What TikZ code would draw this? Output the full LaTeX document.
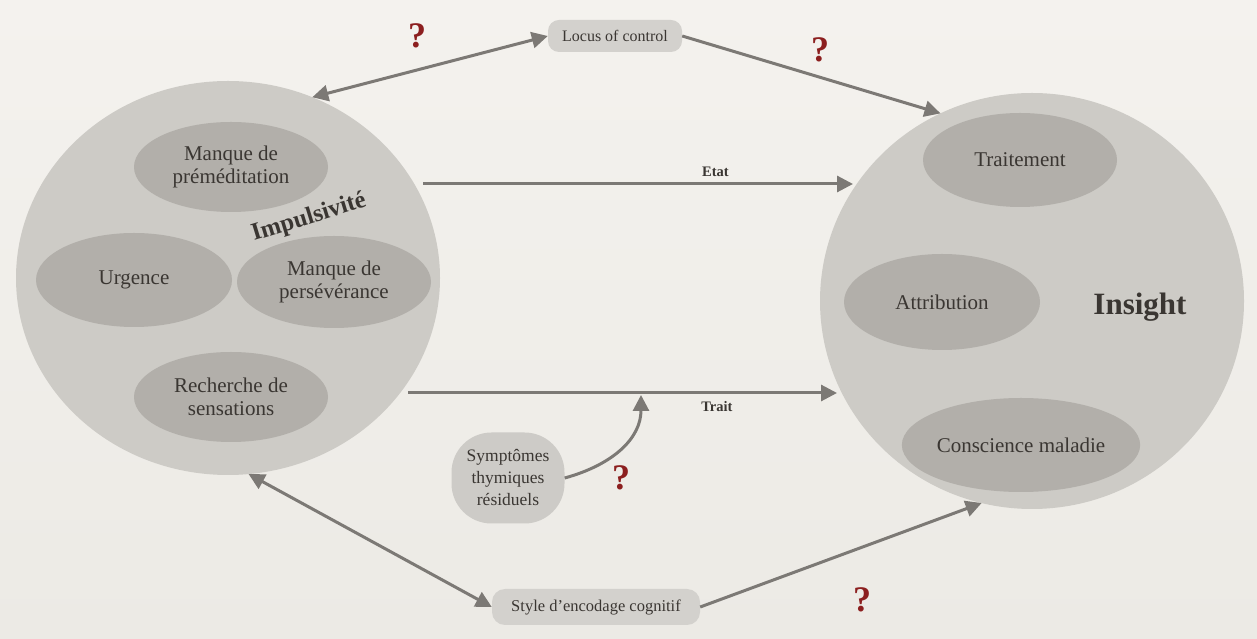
\documentclass[tikz,border=0pt]{standalone}
\usepackage{fontspec}
\setmainfont{Liberation Serif}
\usetikzlibrary{shapes.geometric,arrows.meta,calc}
\definecolor{bgtop}{HTML}{F4F2EE}
\definecolor{bgbot}{HTML}{ECEAE5}
\definecolor{bigfill}{HTML}{CDCBC6}
\definecolor{innerfill}{HTML}{B2AFAA}
\definecolor{boxfill}{HTML}{D3D1CD}
\definecolor{txt}{HTML}{3A3632}
\definecolor{arrgray}{HTML}{7C7975}
\definecolor{qred}{HTML}{8C1F1F}
\tikzset{
  bigcircle/.style={ellipse, fill=bigfill, draw=none, inner sep=0pt, outer sep=0pt},
  inner/.style={ellipse, fill=innerfill, draw=none, inner sep=0pt, outer sep=0pt,
    minimum width=194pt, minimum height=92pt, text=txt, align=center,
    font=\fontsize{21}{23}\selectfont},
  rbox/.style={rectangle, rounded corners=11pt, fill=boxfill, draw=none, text=txt,
    inner sep=0pt, align=center},
  arr/.style={draw=arrgray, line width=3pt, -{Triangle[length=16pt,width=16pt]}},
  darr/.style={draw=arrgray, line width=3pt, {Triangle[length=16pt,width=16pt]}-{Triangle[length=16pt,width=16pt]}},
  qmark/.style={text=qred, font=\fontsize{36}{36}\selectfont\bfseries, inner sep=0pt},
  lbl/.style={text=txt, font=\fontsize{14.5}{16}\selectfont\bfseries, inner sep=0pt},
}
\begin{document}
\begin{tikzpicture}[x=1pt,y=1pt]
\fill[top color=bgtop, bottom color=bgbot] (0,0) rectangle (1257,639);
\useasboundingbox (0,0) rectangle (1257,639);

% big circles
\node[bigcircle, minimum width=424pt, minimum height=394pt] (impuls) at (228,361) {};
\node[bigcircle, minimum width=424pt, minimum height=416pt] (insight) at (1032,338) {};

% inner ellipses left
\node[inner, minimum height=90pt] (prem) at (231,472) {Manque de\\préméditation};
\node[inner, minimum width=196pt, minimum height=94pt] (urg) at (134,359) {Urgence};
\node[inner] (pers) at (334,357) {Manque de\\persévérance};
\node[inner, minimum height=90pt] (rech) at (231,242) {Recherche de\\sensations};
\node[text=txt, font=\fontsize{24.5}{25}\selectfont\bfseries, rotate=17, inner sep=0pt] (impt) at (309,421) {Impulsivité};

% inner ellipses right
\node[inner, minimum height=94pt] (trt) at (1020,479) {Traitement};
\node[inner, minimum width=196pt, minimum height=96pt] (attr) at (942,337) {Attribution};
\node[inner, minimum width=196pt, minimum height=94pt] (consc) at (1021,194) {Conscience maladie};
\node[text=txt, font=\fontsize{31}{31}\selectfont\bfseries, inner sep=0pt] (inst) at (1140,332) {Insight};

% boxes
\node[rbox, minimum width=134pt, minimum height=32pt, font=\fontsize{16}{18}\selectfont] (locus) at (615,603) {Locus of control};
\node[rbox, minimum width=208pt, minimum height=36pt, rounded corners=13pt, font=\fontsize{16.5}{18}\selectfont] (style) at (596,32) {Style d’encodage cognitif};
\node[rbox, minimum width=113pt, minimum height=91pt, rounded corners=40pt, fill=boxfill!97!black, font=\fontsize{17.5}{22}\selectfont] (symp) at (508,161) {Symptômes\\thymiques\\résiduels};

% connectors
\draw[darr] (impuls.65) -- (locus.west);
\draw[arr] (locus.east) -- (insight.116);
\draw[arr] ($(impuls.center)+(195,94)$) -- node[lbl, above=6pt, pos=0.68] (etat) {Etat} ($(insight.center)+(-179,117)$);
\draw[arr] ($(impuls.center)+(180,-115)$) -- node[lbl, below=7pt, pos=0.72] (traitl) {Trait} ($(insight.center)+(-195,-92)$);
\coordinate (tj) at (641,244);
\draw[arr] (symp.east) .. controls (612,174) and (641,200) .. (tj);
\draw[darr] (impuls.-84) -- (style.west);
\draw[arr] (style.east) -- (insight.-104);

% question marks
\node[qmark] (q1) at (417,603) {?};
\node[qmark] (q2) at (820,589) {?};
\node[qmark] (q3) at (621,161) {?};
\node[qmark] (q4) at (862,39) {?};
\end{tikzpicture}
\end{document}
